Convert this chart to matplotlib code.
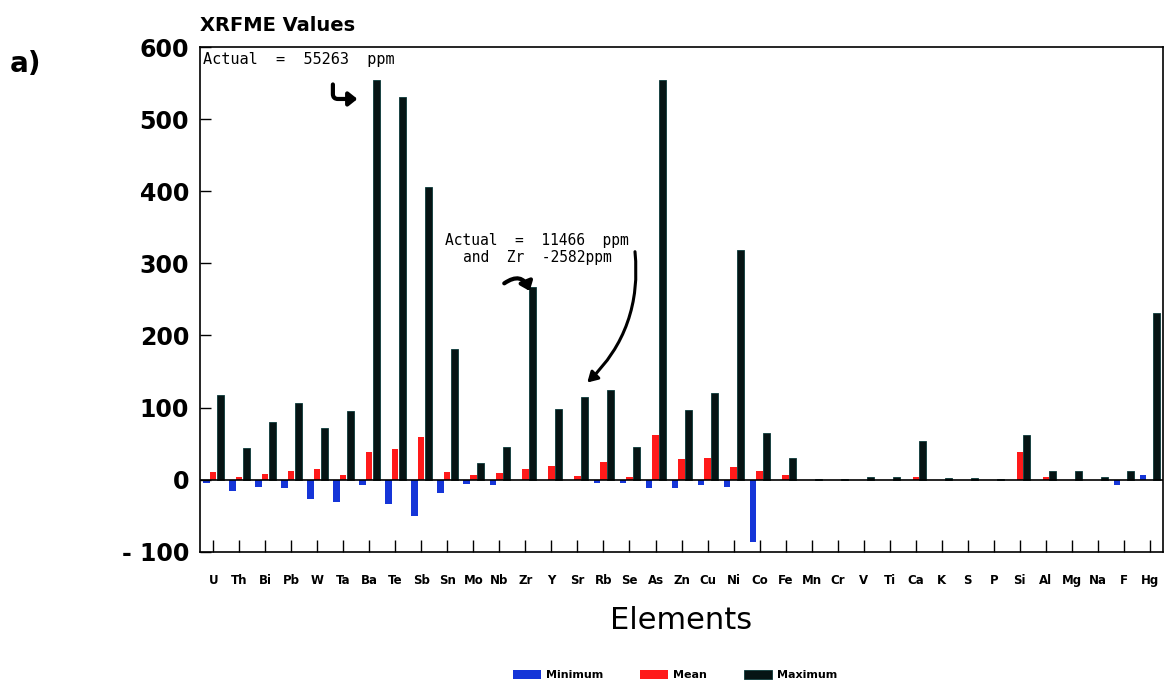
import numpy as np
import matplotlib.pyplot as plt

# Elements along the x axis
elements = ['U', 'Th', 'Bi', 'Pb', 'W', 'Ta', 'Ba', 'Te', 'Sb', 'Sn', 'Mo', 'Nb',
            'Zr', 'Y', 'Sr', 'Rb', 'Se', 'As', 'Zn', 'Cu', 'Ni', 'Co', 'Fe', 'Mn',
            'Cr', 'V', 'Ti', 'Ca', 'K', 'S', 'P', 'Si', 'Al', 'Mg', 'Na', 'F', 'Hg']

# XRFME values (ppm)
minimum = [-5, -16, -10, -12, -27, -31, -7, -34, -50, -18, -6, -7,
           0, 0, 0, -4, -4, -12, -11, -7, -10, -86, 0, 0,
           0, 0, 0, 0, 0, 0, 0, 0, 0, 0, 0, -8, 6]
mean = [10, 4, 8, 12, 15, 6, 38, 43, 59, 10, 6, 9,
        15, 19, 5, 24, 4, 62, 28, 30, 18, 12, 7, 0,
        0, 0, 0, 3, 0, 0, 0, 38, 4, 0, 0, 0, 0]
maximum = [118, 44, 80, 106, 71, 95, 554, 531, 406, 181, 23, 45,
           267, 98, 115, 124, 45, 554, 97, 120, 319, 65, 30, 1,
           1, 3, 4, 54, 2, 2, 1, 62, 12, 12, 3, 12, 231]

x = np.arange(len(elements))

fig = plt.figure(figsize=(11.64, 6.82), dpi=100)
ax = fig.add_axes([0.172, 0.191, 0.827, 0.740])

ax.bar(x - 0.26, minimum, width=0.24, color='#1535d8', label='Minimum')
ax.bar(x, mean, width=0.24, color='#ff1a1a', label='Mean')
ax.bar(x + 0.27, maximum, width=0.28, color='#061414', edgecolor='#0b3a3a',
       linewidth=0.6, label='Maximum')
ax.axhline(0, color='black', lw=1.2)

ax.set_xlim(-0.5, len(elements) - 0.5)
ax.set_ylim(-100, 600)
ax.set_yticks(np.arange(-100, 601, 100))
ax.set_yticklabels(['- 100', '0', '100', '200', '300', '400', '500', '600'],
                   fontsize=17, fontweight='bold')
ax.set_xticks(x)
ax.set_xticklabels(elements, fontsize=8.5, fontweight='bold')
ax.tick_params(axis='y', direction='in', length=8, width=1, pad=8)
ax.tick_params(axis='x', direction='in', length=9, width=1, pad=16)
for s in ax.spines.values():
    s.set_linewidth(1.2)

ax.set_xlabel('Elements', fontsize=22, labelpad=14)
fig.text(0.172, 0.955, 'XRFME Values', fontsize=14, fontweight='bold')
fig.text(0.008, 0.895, 'a)', fontsize=20, fontweight='bold')

# notes on clipped bars
ax.text(-0.4, 593, 'Actual  =  55263  ppm', fontsize=11, va='top',
        family='DejaVu Sans Mono')
ax.annotate('', xy=(5.65, 528), xytext=(4.6, 552),
            arrowprops=dict(arrowstyle='-|>,head_width=0.4,head_length=0.5',
                            lw=3, color='black',
                            connectionstyle='angle,angleA=-90,angleB=180,rad=5'))
ax.text(12.45, 342, 'Actual  =  11466  ppm\nand  Zr  -2582ppm', fontsize=10.5,
        ha='center', va='top', linespacing=1.15, family='DejaVu Sans Mono')
ax.annotate('', xy=(12.2, 258), xytext=(11.1, 270),
            arrowprops=dict(arrowstyle='-|>,head_width=0.4,head_length=0.5',
                            lw=3, color='black',
                            connectionstyle='arc3,rad=-0.7'))
ax.annotate('', xy=(14.3, 132), xytext=(16.2, 320),
            arrowprops=dict(arrowstyle='-|>,head_width=0.35,head_length=0.6',
                            lw=2.2, color='black',
                            connectionstyle='arc3,rad=-0.25'))

fig.legend(loc='lower center', bbox_to_anchor=(0.58, -0.012), ncol=3,
           frameon=False, prop={'size': 8, 'weight': 'bold'},
           handlelength=2.5, handleheight=0.8, handletextpad=0.5,
           columnspacing=3.3)

fig.savefig('out.png', dpi=100)
